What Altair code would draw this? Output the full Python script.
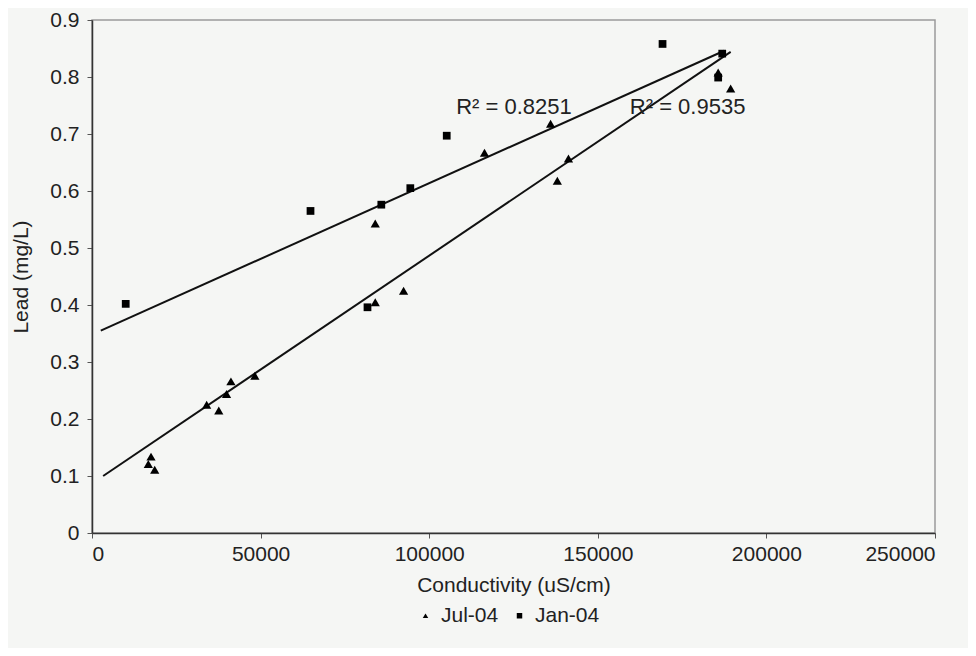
import altair as alt
import pandas as pd

# Jul-04 (triangles)
jul_x = [16700, 17500, 18600, 34000, 37600, 39900, 41200, 48300, 84000, 84000,
         92400, 116400, 136000, 138000, 141300, 185700, 189400]
jul_y = [0.121, 0.134, 0.111, 0.225, 0.215, 0.244, 0.266, 0.276, 0.543, 0.405,
         0.425, 0.667, 0.718, 0.618, 0.657, 0.808, 0.780]
# Jan-04 (squares)
jan_x = [10000, 64800, 81700, 85800, 94400, 105200, 169200, 186900, 185700]
jan_y = [0.402, 0.565, 0.396, 0.576, 0.605, 0.697, 0.858, 0.841, 0.799]

# linear trend lines (end points)
jul_line_x = [3300, 189400]
jul_line_y = [0.100, 0.844]
jan_line_x = [2600, 187500]
jan_line_y = [0.355, 0.846]

# R² annotations
label_text = ["R² = 0.8251", "R² = 0.9535"]
label_x = [108000, 159500]
label_y = [0.748, 0.748]

x_ticks = [0, 50000, 100000, 150000, 200000, 250000]
y_ticks = [0, 0.1, 0.2, 0.3, 0.4, 0.5, 0.6, 0.7, 0.8, 0.9]

FONT = "Liberation Sans"

jul_df = pd.DataFrame({"x": jul_x, "y": jul_y, "series": ["Jul-04"] * len(jul_x)})
jan_df = pd.DataFrame({"x": jan_x, "y": jan_y, "series": ["Jan-04"] * len(jan_x)})
lines = pd.DataFrame({
    "x": jul_line_x + jan_line_x,
    "y": jul_line_y + jan_line_y,
    "series": ["Jul-04 fit"] * 2 + ["Jan-04 fit"] * 2,
})
labels = pd.DataFrame({"x": label_x, "y": label_y, "text": label_text})

xs = alt.Scale(domain=[0, 250000], nice=False)
ys = alt.Scale(domain=[0, 0.9], nice=False)

x_enc = alt.X("x:Q", scale=xs, axis=alt.Axis(
    values=x_ticks, format="d", title="Conductivity (uS/cm)",
    labelPadding=5, titlePadding=10))
y_enc = alt.Y("y:Q", scale=ys, axis=alt.Axis(
    values=y_ticks, format="~g", title="Lead (mg/L)",
    labelPadding=8, titlePadding=18))

shape_enc = alt.Shape("series:N",
                      scale=alt.Scale(domain=["Jul-04", "Jan-04"],
                                      range=["triangle-up", "square"]),
                      legend=alt.Legend(title=None, orient="none", direction="horizontal",
                                        legendX=323, legendY=585,
                                        labelFont=FONT, labelFontSize=21,
                                        labelColor="#222", symbolSize=30,
                                        symbolFillColor="black", symbolStrokeColor="black",
                                        columnPadding=10, labelOffset=5))

tri = alt.Chart(jul_df).mark_point(filled=True, color="black", opacity=1, size=85).encode(
    x=x_enc, y=y_enc, shape=shape_enc)
sq = alt.Chart(jan_df).mark_point(filled=True, color="black", opacity=1, size=60).encode(
    x=alt.X("x:Q", scale=xs), y=alt.Y("y:Q", scale=ys), shape=shape_enc)

trend = alt.Chart(lines).mark_line(color="#111", strokeWidth=2).encode(
    x=alt.X("x:Q", scale=xs),
    y=alt.Y("y:Q", scale=ys),
    detail="series:N",
)

text = alt.Chart(labels).mark_text(align="left", baseline="middle", font=FONT,
                                   fontSize=22, color="#222").encode(
    x=alt.X("x:Q", scale=xs),
    y=alt.Y("y:Q", scale=ys),
    text="text:N",
)

chart = alt.layer(trend, tri, sq, text).properties(
    width=843, height=513,
    autosize="none",
    padding={"left": 84, "top": 12, "right": 33, "bottom": 115},
    background="#f5f6f4",
).configure_view(
    stroke="#9a9a9a", strokeWidth=1.5
).configure_axis(
    labelFont=FONT, titleFont=FONT, labelFontSize=21, titleFontSize=21,
    titleFontWeight="normal", labelColor="#222", titleColor="#222",
    domainColor="#333", domainWidth=1.5, tickColor="#555", tickSize=5, grid=False,
)

chart.save("out.html", embed_options={"renderer": "svg", "actions": False})
